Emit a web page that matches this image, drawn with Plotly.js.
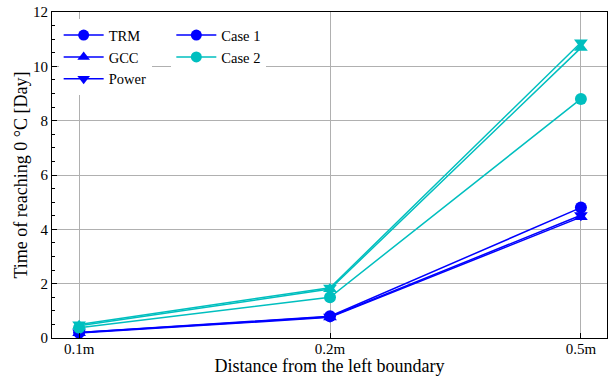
<!DOCTYPE html>
<html><head><meta charset="utf-8">
<script src="https://cdn.plot.ly/plotly-3.0.1.min.js"></script>
<style>html,body{margin:0;padding:0;background:#fff}</style>
</head><body><div id="chart" style="width:609px;height:376px"></div>
<script>
const categories = ["0.1m", "0.2m", "0.5m"];
const case1TRM   = [0.20, 0.80, 4.80];
const case1GCC   = [0.18, 0.76, 4.45];
const case1Power = [0.20, 0.78, 4.52];
const case2TRM   = [0.38, 1.50, 8.80];
const case2GCC   = [0.45, 1.80, 10.68];
const case2Power = [0.50, 1.85, 10.88];
const blue = "#0000ff", cyan = "#00bfbf";
const FAM = "Liberation Serif";

function series(y, color, symbol) {
  return {x: categories, y: y, type: "scatter", mode: "lines+markers",
    line: {color: color, width: 1.5}, marker: {color: color, symbol: symbol, size: 12},
    showlegend: false, hoverinfo: "skip"};
}
function leg(name, color, symbol, legend) {
  return {x: [null], y: [null], type: "scatter", mode: "lines+markers", name: name,
    line: {color: color, width: 1.5}, marker: {color: color, symbol: symbol, size: 11},
    legend: legend};
}
const traces = [
  series(case1TRM, blue, "circle"), series(case1GCC, blue, "triangle-up"), series(case1Power, blue, "triangle-down"),
  series(case2TRM, cyan, "circle"), series(case2GCC, cyan, "triangle-up"), series(case2Power, cyan, "triangle-down"),
  leg("TRM", blue, "circle", "legend"), leg("GCC", blue, "triangle-up", "legend"), leg("Power", blue, "triangle-down", "legend"),
  leg("Case 1", blue, "circle", "legend2"), leg("Case 2", cyan, "circle", "legend2")
];
const tf = {family: FAM, size: 15, color: "#000"};
const lf = {family: FAM, size: 14.5, color: "#000"};
const ttl = {family: FAM, size: 18, color: "#000"};
const layout = {
  width: 609, height: 376, margin: {l: 52, r: 2, t: 12, b: 38},
  paper_bgcolor: "#fff", plot_bgcolor: "#fff", font: tf,
  xaxis: {type: "category", range: [-0.108, 2.104], showgrid: true, gridcolor: "#b0b0b0", gridwidth: 1,
    showline: true, linecolor: "#000", linewidth: 1, mirror: true, ticks: "inside", ticklen: 5, tickcolor: "#000",
    tickfont: tf, ticklabelstandoff: -3,
    title: {text: "Distance from the left boundary", font: ttl, standoff: 0}, zeroline: false},
  yaxis: {range: [0, 12], dtick: 2, showgrid: true, gridcolor: "#b0b0b0", gridwidth: 1,
    showline: true, linecolor: "#000", linewidth: 1, mirror: true, ticks: "inside", ticklen: 5, tickcolor: "#000",
    tickfont: tf,
    minor: {dtick: 0.5, ticks: "inside", ticklen: 3, tickcolor: "#000", showgrid: false},
    title: {text: "Time of reaching 0 °C [Day]", font: ttl, standoff: 0}, zeroline: false},
  legend: {x: 0.012, y: 0.978, xanchor: "left", yanchor: "top", bgcolor: "rgba(255,255,255,1)",
    borderwidth: 0, font: lf, tracegroupgap: 0, itemwidth: 40},
  legend2: {x: 0.215, y: 0.978, xanchor: "left", yanchor: "top", bgcolor: "rgba(255,255,255,1)",
    borderwidth: 0, font: lf, tracegroupgap: 0, itemwidth: 40},
  showlegend: true
};
Plotly.newPlot("chart", traces, layout, {displayModeBar: false, staticPlot: true});
</script></body></html>
